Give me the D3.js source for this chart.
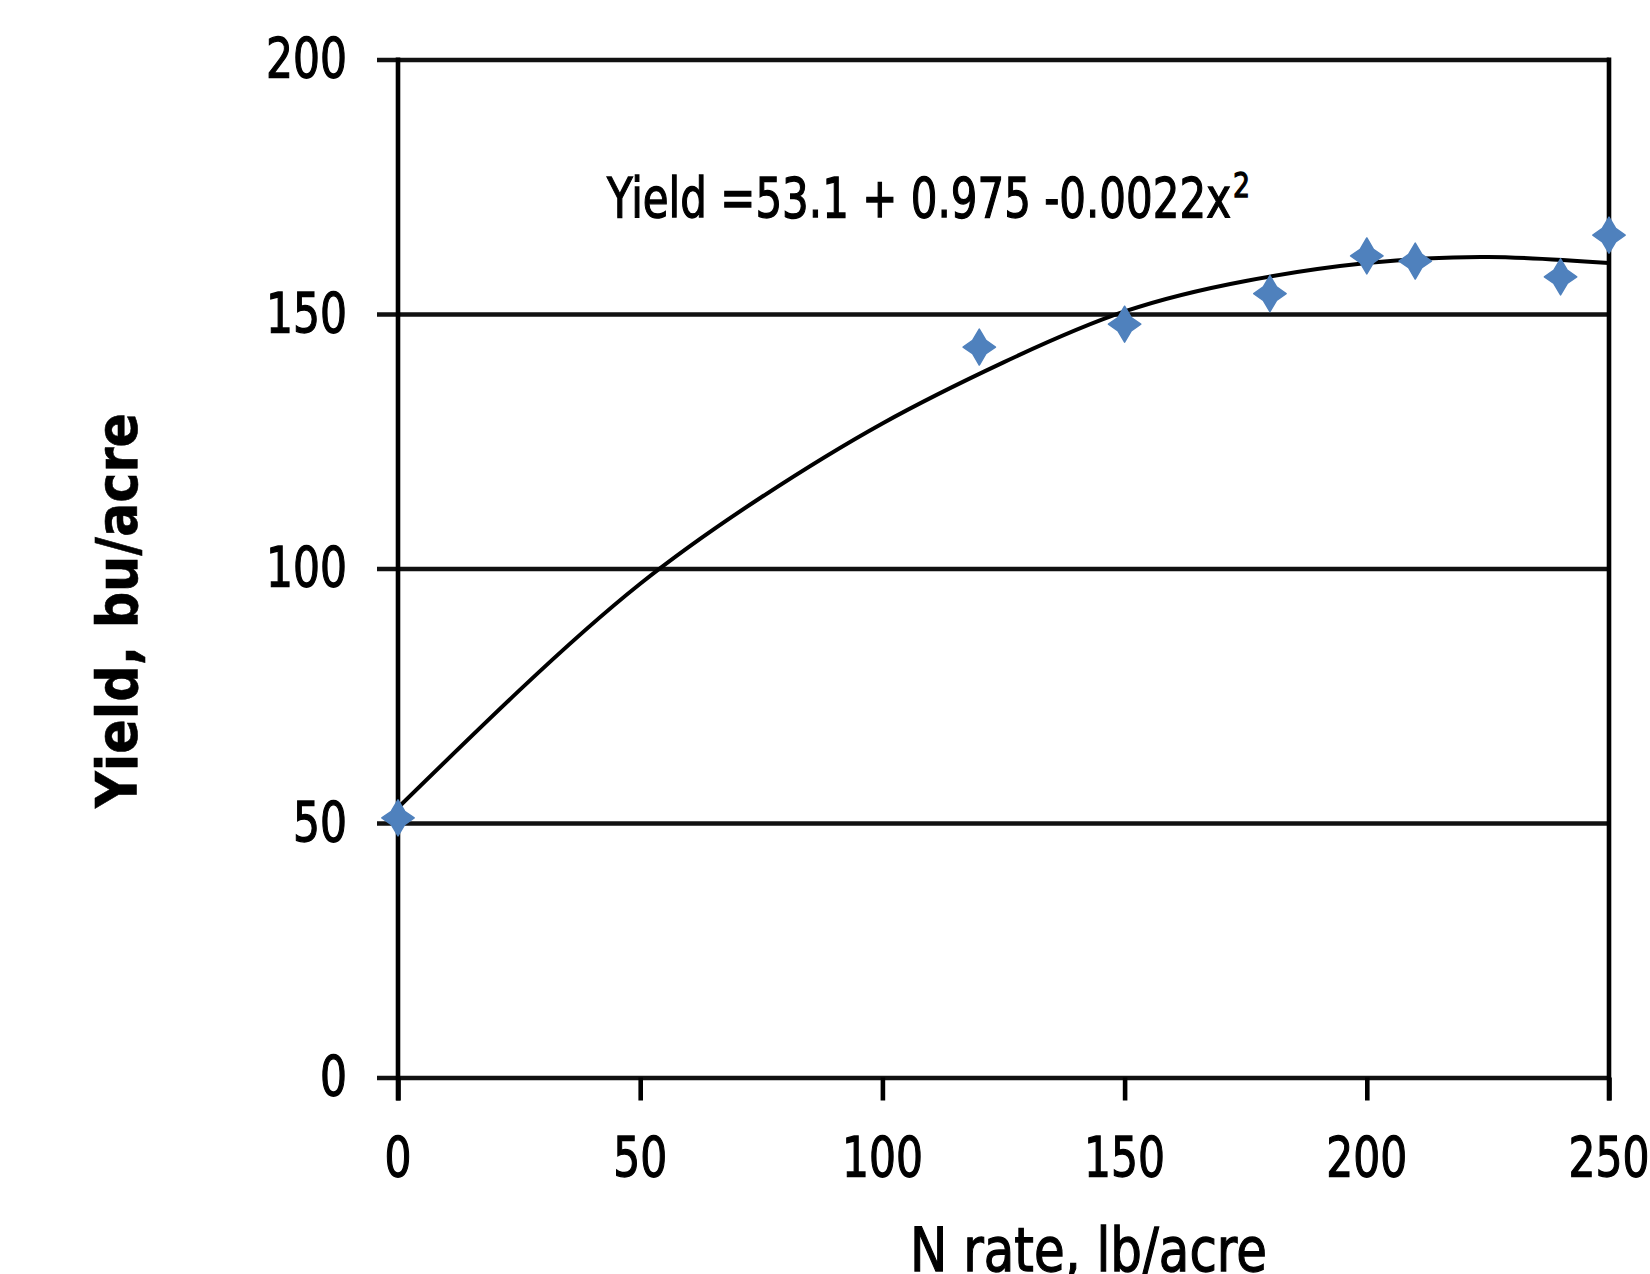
<!DOCTYPE html>
<html>
<head>
<meta charset="utf-8">
<script src="https://cdn.jsdelivr.net/npm/d3@7"></script>
<style>
  html, body { margin: 0; padding: 0; background: #fff; }
  svg text { font-family: "DejaVu Sans", Verdana, sans-serif; fill: #000; stroke: #000; stroke-width: 1.3px; }
  svg text.bold { stroke-width: 0.6px; }
</style>
</head>
<body>
<div id="chart"></div>
<script>
// observed yields (bu/acre) at each N rate (lb/acre)
const nRate = [0, 120, 150, 180, 200, 210, 240, 250];
const yieldObs = [51, 143.5, 148, 154, 161.4, 160.4, 157.3, 165.5];

// fitted curve
const trendX = [0, 25, 50, 75, 100, 125, 150, 175, 200, 225, 250];
const trendY = [53, 76, 97, 114, 128.5, 140.5, 150.5, 156.5, 160, 161.2, 160];

const xTicks = [0, 50, 100, 150, 200, 250];
const yTicks = [0, 50, 100, 150, 200];

const equationText = "Yield =53.1 + 0.975 -0.0022x";
const xTitle = "N rate, lb/acre";
const yTitle = "Yield, bu/acre";

const width = 1650, height = 1274;
const plotLeft = 398, plotRight = 1609, plotTop = 59.5, plotBottom = 1077.5;
const tickOut = 21;

const svg = d3.select("#chart").append("svg")
  .attr("width", width)
  .attr("height", height);

const x = d3.scaleLinear().domain([0, 250]).range([plotLeft, plotRight]);
const y = d3.scaleLinear().domain([0, 200]).range([plotBottom, plotTop]);

// horizontal grid lines (they also serve as the y ticks)
const yAxis = svg.append("g")
  .attr("transform", `translate(${plotLeft},0)`)
  .call(d3.axisLeft(y).tickValues(yTicks).tickSize(0).tickFormat(""));
yAxis.select(".domain").remove();
yAxis.selectAll(".tick line")
  .attr("x1", -tickOut)
  .attr("x2", plotRight - plotLeft)
  .attr("stroke", "#111")
  .attr("stroke-width", 4.6);

// x ticks
const xAxis = svg.append("g")
  .attr("transform", `translate(0,${plotBottom})`)
  .call(d3.axisBottom(x).tickValues(xTicks).tickSize(0).tickFormat(""));
xAxis.select(".domain").remove();
xAxis.selectAll(".tick line")
  .attr("y1", 0)
  .attr("y2", tickOut + 2)
  .attr("stroke", "#000")
  .attr("stroke-width", 4.6);

// left axis and right border
[plotLeft, plotRight].forEach(px => {
  svg.append("line")
    .attr("x1", px).attr("x2", px)
    .attr("y1", plotTop - 2).attr("y2", plotBottom + tickOut + 2)
    .attr("stroke", "#000")
    .attr("stroke-width", 4.6);
});

// tick labels
const digitW = 27;
svg.append("g").selectAll("text")
  .data(yTicks)
  .join("text")
  .attr("x", 347)
  .attr("y", d => y(d) + 17.5)
  .attr("text-anchor", "end")
  .attr("font-size", 55)
  .attr("textLength", d => String(d).length * digitW)
  .attr("lengthAdjust", "spacingAndGlyphs")
  .text(d => d);

svg.append("g").selectAll("text")
  .data(xTicks)
  .join("text")
  .attr("x", d => x(d))
  .attr("y", 1176)
  .attr("text-anchor", "middle")
  .attr("font-size", 55)
  .attr("textLength", d => String(d).length * digitW)
  .attr("lengthAdjust", "spacingAndGlyphs")
  .text(d => d);

// trend curve
const line = d3.line()
  .x(d => x(d[0]))
  .y(d => y(d[1]))
  .curve(d3.curveNatural);

svg.append("path")
  .datum(trendX.map((v, i) => [v, trendY[i]]))
  .attr("d", line)
  .attr("fill", "none")
  .attr("stroke", "#000")
  .attr("stroke-width", 4);

// four-pointed star marker
const star4 = {
  draw(ctx, size) {
    const r = Math.sqrt(size);
    const rx = r * 0.9, w = r * 0.37;
    ctx.moveTo(0, -r);
    ctx.lineTo(w, -w);
    ctx.lineTo(rx, 0);
    ctx.lineTo(w, w);
    ctx.lineTo(0, r);
    ctx.lineTo(-w, w);
    ctx.lineTo(-rx, 0);
    ctx.lineTo(-w, -w);
    ctx.closePath();
  }
};

svg.append("g").selectAll("path")
  .data(nRate.map((v, i) => ({ n: v, yld: yieldObs[i] })))
  .join("path")
  .attr("transform", d => `translate(${x(d.n)},${y(d.yld)})`)
  .attr("d", d3.symbol().type(star4).size(18 * 18))
  .attr("fill", "#4F81BD")
  .attr("stroke", "#4F81BD")
  .attr("stroke-width", 1.5)
  .attr("stroke-linejoin", "round");

// equation
svg.append("text")
  .attr("x", 607)
  .attr("y", 217)
  .attr("font-size", 55)
  .attr("textLength", 624)
  .attr("lengthAdjust", "spacingAndGlyphs")
  .text(equationText);
svg.append("text")
  .attr("x", 1233)
  .attr("y", 197)
  .attr("font-size", 33)
  .attr("textLength", 17)
  .attr("lengthAdjust", "spacingAndGlyphs")
  .text("2");

// axis titles
svg.append("text")
  .attr("x", 910)
  .attr("y", 1271)
  .attr("font-size", 60)
  .attr("textLength", 357)
  .attr("lengthAdjust", "spacingAndGlyphs")
  .text(xTitle);

svg.append("text")
  .attr("class", "bold")
  .attr("transform", "translate(137,610.5) rotate(-90)")
  .attr("text-anchor", "middle")
  .attr("font-size", 57)
  .attr("font-weight", "bold")
  .attr("textLength", 395)
  .attr("lengthAdjust", "spacingAndGlyphs")
  .text(yTitle);
</script>
</body>
</html>
